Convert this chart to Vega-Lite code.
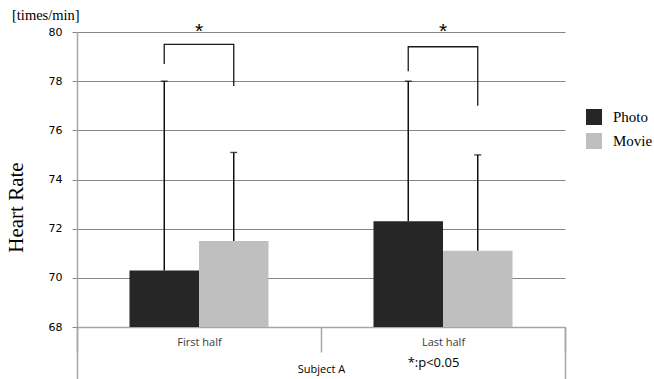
{
  "$schema": "https://vega.github.io/schema/vega-lite/v6.json",
  "width": 488,
  "height": 295,
  "autosize": {"type": "none"},
  "padding": {"left": 77, "top": 32, "right": 89, "bottom": 52},
  "background": "white",
  "title": {
    "text": "[times/min]",
    "anchor": "start",
    "frame": "group",
    "dx": -65,
    "dy": 24,
    "offset": 11,
    "baseline": "alphabetic",
    "font": "Liberation Serif",
    "fontSize": 14.5,
    "fontWeight": "normal",
    "color": "#000000"
  },
  "datasets": {
    "bars": [
      {"period": "First half", "group": "Photo", "mean": 70.3, "upper": 78.0},
      {"period": "First half", "group": "Movie", "mean": 71.5, "upper": 75.1},
      {"period": "Last half", "group": "Photo", "mean": 72.3, "upper": 78.0},
      {"period": "Last half", "group": "Movie", "mean": 71.1, "upper": 75.0}
    ],
    "brackets": [
      {"period": "First half", "group": "Photo", "y": 78.7, "k": 1},
      {"period": "First half", "group": "Photo", "y": 79.5, "k": 2},
      {"period": "First half", "group": "Movie", "y": 79.5, "k": 3},
      {"period": "First half", "group": "Movie", "y": 77.8, "k": 4},
      {"period": "Last half", "group": "Photo", "y": 78.4, "k": 1},
      {"period": "Last half", "group": "Photo", "y": 79.4, "k": 2},
      {"period": "Last half", "group": "Movie", "y": 79.4, "k": 3},
      {"period": "Last half", "group": "Movie", "y": 77.0, "k": 4}
    ],
    "stars": [
      {"period": "First half", "label": "*", "y": 79.75},
      {"period": "Last half", "label": "*", "y": 79.75}
    ]
  },
  "resolve": {"axis": {"x": "independent"}},
  "layer": [
    {
      "data": {"name": "bars"},
      "mark": {"type": "bar", "clip": true},
      "encoding": {
        "x": {
          "field": "period", "type": "nominal",
          "scale": {"paddingInner": 0, "paddingOuter": 0},
          "axis": {
            "orient": "bottom",
            "tickBand": "extent", "tickSize": 25, "labelPadding": -16,
            "title": "Subject A", "titleFont": "Open Sans", "titleFontSize": 11,
            "titleFontWeight": "normal", "titleColor": "#000000",
            "titleY": 42, "titleBaseline": "middle",
            "labelFont": "Open Sans", "labelFontSize": 11, "labelColor": "#3a3a3a"
          }
        },
        "xOffset": {"field": "group", "type": "nominal", "scale": {"domain": ["Photo", "Movie"], "paddingInner": 0, "paddingOuter": 0.755}},
        "y": {"field": "mean", "type": "quantitative", "title": "Heart Rate", "scale": {"domain": [68, 80], "nice": false, "zero": false}},
        "color": {
          "field": "group", "type": "nominal",
          "scale": {"domain": ["Photo", "Movie"], "range": ["#262626", "#bfbfbf"]},
          "legend": {"title": null}
        }
      }
    },
    {
      "data": {"name": "bars"},
      "mark": {"type": "rule", "color": "#000000", "strokeWidth": 1.4},
      "encoding": {
        "x": {
          "field": "period", "type": "nominal",
          "axis": {"orient": "bottom", "values": ["First half"], "bandPosition": 0, "tickSize": 52, "labels": false, "domain": false, "title": null}
        },
        "xOffset": {"field": "group", "type": "nominal", "scale": {"domain": ["Photo", "Movie"]}},
        "y": {"field": "mean", "type": "quantitative", "title": "Heart Rate"},
        "y2": {"field": "upper"}
      }
    },
    {
      "data": {"name": "bars"},
      "mark": {"type": "tick", "color": "#000000", "size": 7, "thickness": 1.4},
      "encoding": {
        "x": {
          "field": "period", "type": "nominal",
          "axis": {
            "orient": "bottom",
            "values": ["Last half"], "bandPosition": 1, "tickSize": 52, "labels": false, "domain": false,
            "title": "*:p<0.05", "titleX": 356, "titleY": 35, "titleBaseline": "middle",
            "titleFont": "Open Sans", "titleFontSize": 13, "titleFontWeight": "normal", "titleColor": "#000000"
          }
        },
        "xOffset": {"field": "group", "type": "nominal", "scale": {"domain": ["Photo", "Movie"]}},
        "y": {"field": "upper", "type": "quantitative", "title": "Heart Rate"}
      }
    },
    {
      "data": {"name": "brackets"},
      "mark": {"type": "line", "color": "#1a1a1a", "strokeWidth": 1.3},
      "encoding": {
        "x": {"field": "period", "type": "nominal", "axis": null},
        "xOffset": {"field": "group", "type": "nominal", "scale": {"domain": ["Photo", "Movie"]}},
        "y": {"field": "y", "type": "quantitative", "title": "Heart Rate"},
        "detail": {"field": "period"},
        "order": {"field": "k"}
      }
    },
    {
      "data": {"name": "stars"},
      "mark": {"type": "text", "font": "Liberation Sans", "fontSize": 21, "baseline": "alphabetic", "color": "#000000"},
      "encoding": {
        "x": {"field": "period", "type": "nominal", "axis": null},
        "y": {"field": "y", "type": "quantitative", "title": "Heart Rate"},
        "text": {"field": "label"}
      }
    }
  ],
  "config": {
    "view": {"stroke": null},
    "axis": {
      "domainColor": "#a6a6a6", "domainWidth": 1.5,
      "tickColor": "#a6a6a6", "tickWidth": 1.5
    },
    "axisX": {"labelAngle": 0, "grid": false},
    "axisY": {
      "grid": true, "gridColor": "#868686", "gridWidth": 1,
      "values": [68, 70, 72, 74, 76, 78, 80],
      "tickSize": 5, "tickColor": "#868686", "tickWidth": 1,
      "labelFont": "DejaVu Sans", "labelFontSize": 11, "labelColor": "#000000", "labelPadding": 10,
      "titleFont": "Liberation Serif", "titleFontSize": 21, "titleFontWeight": "normal", "titleColor": "#000000",
      "titleX": -55, "titleY": 175, "titleBaseline": "alphabetic", "titleAlign": "center", "titleAngle": -90
    },
    "legend": {
      "orient": "none", "legendX": 509, "legendY": 77,
      "symbolType": "square", "symbolSize": 256, "symbolStrokeWidth": 0,
      "labelFont": "Liberation Serif", "labelFontSize": 15, "labelColor": "#000000",
      "labelOffset": 11, "rowPadding": 8
    }
  }
}
